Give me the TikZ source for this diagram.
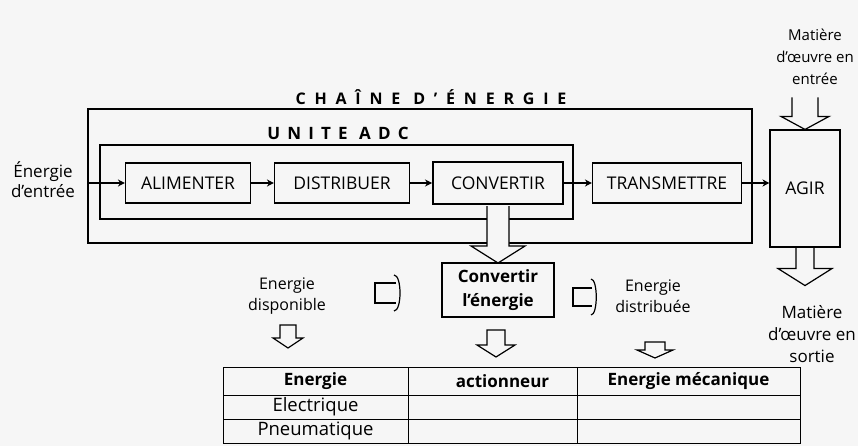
\documentclass[tikz,border=0pt]{standalone}
\usepackage{fontspec}
\setmainfont{Open Sans}
\newfontfamily\chainfont[LetterSpace=55]{Open Sans}
\newfontfamily\adcfont[LetterSpace=42]{Open Sans}
\usetikzlibrary{arrows.meta}
\newcommand\fs[2]{\fontsize{#1}{#2}\selectfont}
\definecolor{bg}{HTML}{F6F6F6}
\begin{document}
\begin{tikzpicture}[x=1pt,y=-1pt,
  box/.style={draw, line width=1.1pt, inner sep=0pt, font=\fs{17.5}{20}},
  conn/.style={line width=1.1pt, -{Stealth[length=7pt,width=7pt]}},
  hollow/.style={draw, line width=1.2pt, fill=bg, line join=miter},
  lbl/.style={align=center, inner sep=0pt},
  cell/.style={draw, line width=1pt, inner sep=0pt, font=\fs{18.5}{20}},
  pics/downarrow/.style n args={5}{code={
    \path[hollow] (-#1,#5) -- (-#1,#3) -- (-#2,#3) -- (0,#4) -- (#2,#3) -- (#1,#3) -- (#1,#5);}},
  pics/downbox/.style n args={5}{code={
    \path[hollow] (-#1,#5) -- (-#1,#3) -- (-#2,#3) -- (0,#4) -- (#2,#3) -- (#1,#3) -- (#1,#5) -- cycle;}},
  pics/rightarrow/.style n args={5}{code={
    \path[hollow] (#1,-#2) -- (0,-#2) -- (0,#2) -- (#1,#2);
    \draw[line width=1.2pt] (#4,-#3) .. controls (#5,-#3) and (#5,#3) .. (#4,#3);}}
]
\useasboundingbox (0,0) rectangle (858,446);
\fill[bg] (0,0) rectangle (858,446);

% outer chain and ADC unit
\node[draw, line width=1.1pt, minimum width=664pt, minimum height=134pt, inner sep=0pt] (chain) at (420,176) {};
\node[lbl, font=\chainfont\bfseries\fs{16}{18}] (chaintitle) at (431,97) {CHAÎNE D’ÉNERGIE};
\node[draw, line width=2pt, minimum width=473pt, minimum height=74pt, inner sep=0pt] (adc) at (336.5,182) {};
\node[lbl, font=\adcfont\bfseries\fs{17}{19}] (adctitle) at (338,133) {UNITE ADC};

% function boxes
\node[box, minimum width=125pt, minimum height=40pt] (alim) at (188,183) {ALIMENTER};
\node[box, minimum width=135pt, minimum height=40pt] (dist) at (342,183) {DISTRIBUER};
\node[box, line width=2pt, minimum width=130pt, minimum height=42pt] (conv) at (498,183) {CONVERTIR};
\node[box, minimum width=149pt, minimum height=40pt] (trans) at (667,183) {TRANSMETTRE};
\node[box, minimum width=70pt, minimum height=117pt] (agir) at (805,188.5) {AGIR};

\node[lbl, font=\fs{17}{20}] (ein) at (43,180) {Énergie\\d’entrée};

\draw[conn] (chain.west |- alim.west) -- (alim.west);
\draw[conn] (alim) -- (dist);
\draw[conn] (dist) -- (conv);
\draw[conn] (conv) -- (trans);
\draw[conn] (trans.east) -- (trans.east -| agir.west);

% convert box and big arrow
\node[box, line width=2pt, minimum width=112pt, minimum height=54pt, font=\bfseries\fs{17}{24}, align=center] (cbox) at (498,290) {Convertir\\l’énergie};
\pic at (conv.south) {downarrow={11}{27}{41}{58}{1.2}};

% AGIR arrows
\pic at (agir.north) {downarrow={13}{24}{-13}{0}{-32}};
\pic at (agir.south) {downarrow={9}{27}{21}{38}{0.6}};
\node[lbl, font=\fs{15}{22}] (min) at (815,57) {Matière\\d’œuvre en\\entrée};
\node[lbl, font=\fs{17}{22}] (mout) at (812,334) {Matière\\d’œuvre en\\sortie};

% middle row
\node[lbl, font=\fs{16}{21}] (edisp) at (287,296) {Energie\\disponible};
\node[lbl, font=\fs{16}{21}] (edist) at (653,296) {Energie\\distribuée};
\pic at (375,293) {rightarrow={21}{10}{18}{19}{27}};
\pic at (573,297) {rightarrow={19}{9}{18}{18}{25}};
\pic at (288,325) {downbox={8}{15}{13}{23}{0}};
\pic at (496,330) {downbox={9}{19}{15}{27}{0}};
\pic at (655,342) {downbox={10}{18}{8}{16}{0}};

% table
\node[cell, minimum width=185pt, minimum height=28pt, font=\bfseries\fs{17}{20}] (h1) at (315.5,381) {Energie};
\node[cell, minimum width=169pt, minimum height=28pt, font=\bfseries\fs{17}{20}] (h2) at (492.5,381) {\hspace*{20pt}actionneur};
\node[cell, minimum width=223pt, minimum height=28pt, font=\bfseries\fs{17}{20}] (h3) at (688.5,381) {Energie mécanique};
\node[cell, minimum width=185pt, minimum height=24pt] (r1c1) at (315.5,407) {Electrique};
\node[cell, minimum width=169pt, minimum height=24pt] (r1c2) at (492.5,407) {};
\node[cell, minimum width=223pt, minimum height=24pt] (r1c3) at (688.5,407) {};
\node[cell, minimum width=185pt, minimum height=24pt] (r2c1) at (315.5,431) {Pneumatique};
\node[cell, minimum width=169pt, minimum height=24pt] (r2c2) at (492.5,431) {};
\node[cell, minimum width=223pt, minimum height=24pt] (r2c3) at (688.5,431) {};
\end{tikzpicture}
\end{document}
